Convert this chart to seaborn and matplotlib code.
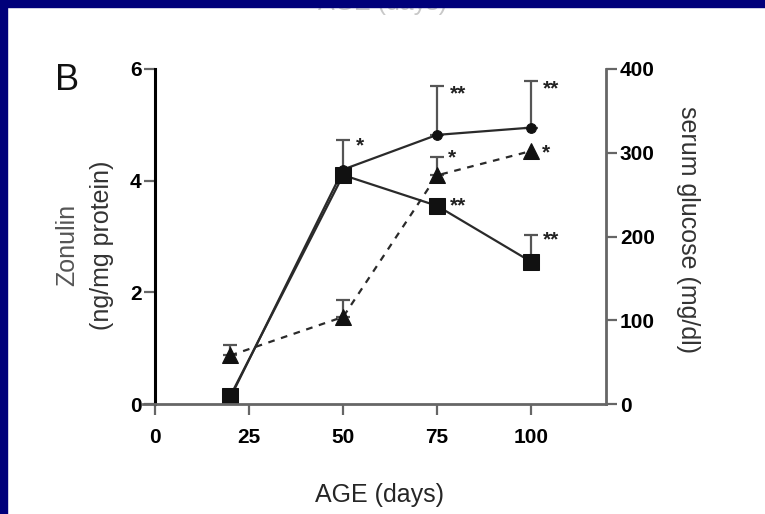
import numpy as np
import matplotlib
matplotlib.use("Agg")
import matplotlib.pyplot as plt
import seaborn as sns
from matplotlib.patches import Rectangle

# data
age = [20, 50, 75, 100]
zonulin_sq = [0.15, 4.10, 3.55, 2.55]
zonulin_sq_err = [0.0, 0.63, 0.10, 0.48]
zonulin_sq_star = ["", "*", "**", "**"]
zonulin_ci = [0.12, 4.20, 4.82, 4.95]
zonulin_ci_err = [0.0, 0.0, 0.88, 0.84]
zonulin_ci_star = ["", "", "**", "**"]
glucose = [58, 104, 273, 302]
glucose_err = [13, 20, 22, 0]
glucose_star = ["", "", "*", "*"]

x_ticks = [0, 25, 50, 75, 100]
left_ticks = [0, 2, 4, 6]
right_ticks = [0, 100, 200, 300, 400]

sns.set_style("ticks")
plt.rcParams["font.family"] = ["Liberation Sans", "DejaVu Sans"]

fig = plt.figure(figsize=(7.65, 5.14), dpi=100)
ax = fig.add_axes([143 / 765, 1 - 404 / 514, 463 / 765, 335 / 514])
ax2 = ax.twinx()

line_col = "#2a2a2a"
bar_col = "#555555"

def upper_err(a, xs, ys, es):
    xs = np.array(xs); ys = np.array(ys); es = np.array(es)
    m = es > 0
    a.errorbar(xs[m], ys[m], yerr=[np.zeros(m.sum()), es[m]], fmt="none",
               ecolor=bar_col, elinewidth=1.6, capsize=5, capthick=1.6, zorder=2)

def stars(a, xs, ys, es, ss, dx, dy):
    for xv, yv, ev, s in zip(xs, ys, es, ss):
        if s:
            a.annotate(s, (xv, yv + ev), xytext=(dx, dy), textcoords="offset points",
                       ha="left", va="center", fontsize=15, fontweight="bold", color="#222222")

upper_err(ax, age, zonulin_sq, zonulin_sq_err)
upper_err(ax, age, zonulin_ci, zonulin_ci_err)
sns.lineplot(x=age, y=zonulin_ci, ax=ax, color=line_col, marker="o", markersize=7,
             markeredgecolor="#111111", markerfacecolor="#111111", linewidth=1.6)
sns.lineplot(x=age, y=zonulin_sq, ax=ax, color=line_col, marker="s", markersize=11,
             markeredgecolor="#111111", markerfacecolor="#111111", linewidth=1.6)
stars(ax, age, zonulin_sq, zonulin_sq_err, zonulin_sq_star, 9, -4)
stars(ax, age, zonulin_ci, zonulin_ci_err, zonulin_ci_star, 9, -6)

upper_err(ax2, age, glucose, glucose_err)
sns.lineplot(x=age, y=glucose, ax=ax2, color=line_col, marker="^", markersize=11,
             markeredgecolor="#111111", markerfacecolor="#111111", linewidth=1.6,
             linestyle=(0, (3, 3)))
stars(ax2, age, glucose, glucose_err, glucose_star, 8, -1)

ax.set_xlim(-3.3, 120)
ax.set_ylim(0, 6)
ax2.set_ylim(0, 400)
ax.set_xticks(x_ticks)
ax.set_yticks(left_ticks)
ax2.set_yticks(right_ticks)

ax.spines["left"].set_position(("data", 0))
ax.spines["left"].set_color("black")
ax.spines["left"].set_linewidth(2.2)
ax.spines["bottom"].set_color("#666666")
ax.spines["bottom"].set_linewidth(2.0)
ax.spines["top"].set_visible(False)
ax.spines["right"].set_visible(False)
for s in ["left", "top", "bottom"]:
    ax2.spines[s].set_visible(False)
ax2.spines["right"].set_color("#666666")
ax2.spines["right"].set_linewidth(2.0)

for a in (ax, ax2):
    a.tick_params(direction="out", length=8, width=1.6, color="#666666",
                  labelsize=15, labelcolor="black", pad=2)
    for t in a.get_xticklabels() + a.get_yticklabels():
        t.set_fontweight("bold")
ax.tick_params(axis="x", pad=9)
ax.set_ylabel("")
ax2.set_ylabel("")
ax.set_xlabel("AGE (days)", fontsize=18)
ax.xaxis.label.set_va("center")
ax.xaxis.set_label_coords(0.51, -0.272)

fig.text(67 / 765, 1 - 245 / 514, "Zonulin", rotation=90, ha="center", va="center",
         fontsize=18, color="#555555")
fig.text(102 / 765, 1 - 245 / 514, "(ng/mg protein)", rotation=90, ha="center", va="center",
         fontsize=18, color="#333333")
fig.text(688 / 765, 1 - 230 / 514, "serum glucose (mg/dl)", rotation=270, ha="center",
         va="center", fontsize=18, color="#333333")
fig.text(55 / 765, 1 - 90 / 514, "B", fontsize=26, ha="left", va="baseline", color="#111111")

# cut-off label from the panel above (only its lower edge shows under the border)
fig.text(383 / 765, 1 - 10 / 514, "AGE (days)", fontsize=18, ha="center", va="baseline",
         color="#c8c8c8")

navy = "#00007a"
fig.patches.append(Rectangle((0, 0), 7 / 765, 1, transform=fig.transFigure,
                             color=navy, zorder=10))
fig.patches.append(Rectangle((0, 1 - 7 / 514), 1, 7 / 514, transform=fig.transFigure,
                             color=navy, zorder=10))

fig.savefig("out.png", dpi=100)
